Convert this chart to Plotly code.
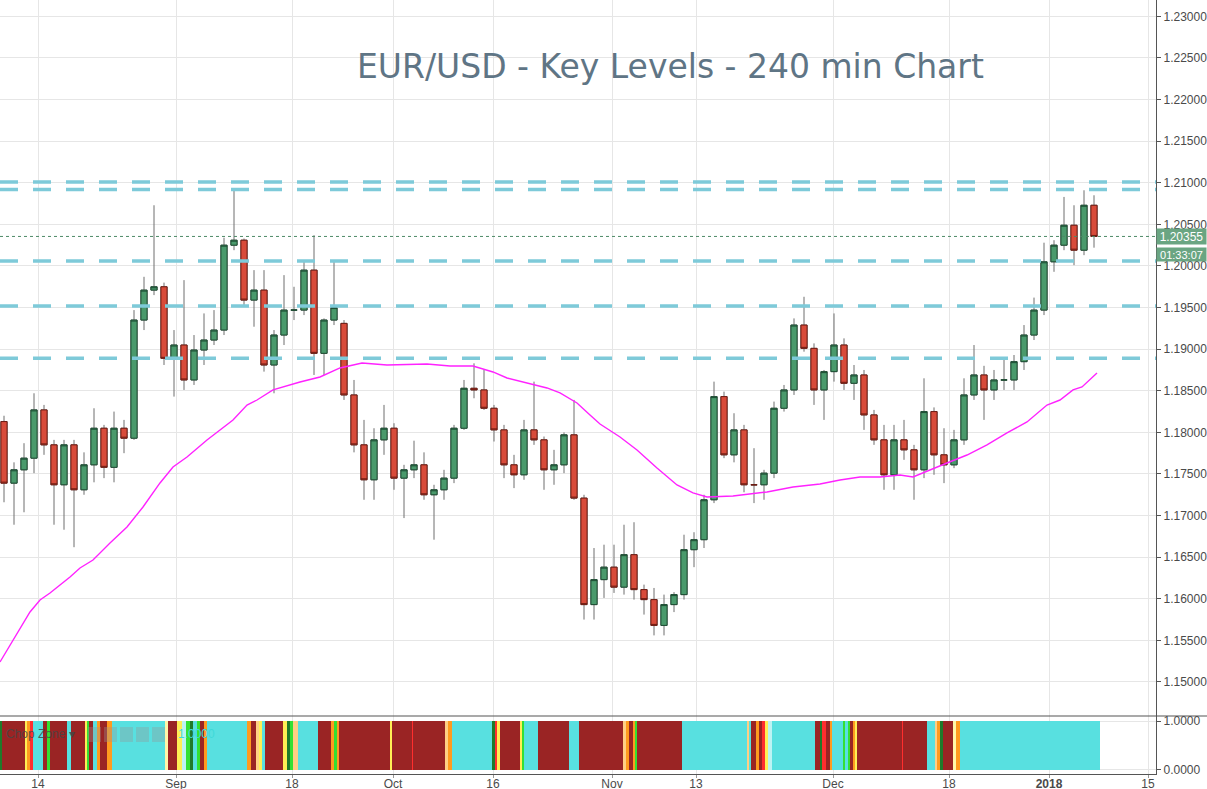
import plotly.graph_objects as go
import numpy as np

# ---------------- data ----------------
bar_index = list(range(-4, 106))   # one candle per trading-day column

open_ = [1.1813, 1.1739, 1.1755, 1.1769, 1.1827, 1.1785, 1.1737, 1.1785, 1.1731, 1.1761,
         1.1805, 1.1758, 1.1805, 1.1793, 1.1935, 1.1971, 1.1975, 1.1889, 1.1905, 1.1863,
         1.1899, 1.1911, 1.1923, 1.2025, 1.2031, 1.1959, 1.1971, 1.1881, 1.1917, 1.1947,
         1.1947, 1.1995, 1.1895, 1.1935, 1.1931, 1.1845, 1.1785, 1.1743, 1.1791, 1.1805,
         1.1745, 1.1755, 1.1761, 1.1725, 1.1731, 1.1745, 1.1805, 1.1853, 1.1851, 1.1829,
         1.1803, 1.1761, 1.1749, 1.1803, 1.1791, 1.1755, 1.1761, 1.1797, 1.1721, 1.1593,
         1.1623, 1.1638, 1.1614, 1.1653, 1.1611, 1.1599, 1.1568, 1.1593, 1.1605, 1.1659,
         1.1671, 1.1719, 1.1843, 1.1773, 1.1803, 1.1737, 1.1737, 1.1751, 1.1829, 1.1851,
         1.1929, 1.1901, 1.1851, 1.1873, 1.1905, 1.1859, 1.1869, 1.1821, 1.1791, 1.1749,
         1.1791, 1.1779, 1.1755, 1.1825, 1.1773, 1.1761, 1.1791, 1.1845, 1.1869, 1.1851,
         1.1863, 1.1863, 1.1885, 1.1917, 1.1947, 1.2005, 1.2025, 1.2049, 1.2019, 1.2073]
high = [1.1820, 1.1764, 1.1787, 1.1847, 1.1833, 1.1791, 1.1791, 1.1791, 1.1776, 1.1829,
        1.1809, 1.1825, 1.1815, 1.1947, 1.1987, 1.2073, 1.1980, 1.1923, 1.1983, 1.1917,
        1.1943, 1.1947, 1.2034, 1.2091, 1.2033, 1.1995, 1.1995, 1.1923, 1.1989, 1.1975,
        1.2005, 1.2037, 1.1937, 1.2005, 1.1935, 1.1863, 1.1815, 1.1805, 1.1833, 1.1811,
        1.1761, 1.1790, 1.1776, 1.1737, 1.1755, 1.1809, 1.1863, 1.1883, 1.1875, 1.1833,
        1.1809, 1.1773, 1.1815, 1.1861, 1.1795, 1.1779, 1.1800, 1.1839, 1.1725, 1.1661,
        1.1665, 1.1665, 1.1689, 1.1692, 1.1617, 1.1613, 1.1605, 1.1608, 1.1677, 1.1680,
        1.1725, 1.1861, 1.1849, 1.1823, 1.1809, 1.1781, 1.1755, 1.1837, 1.1857, 1.1937,
        1.1963, 1.1907, 1.1875, 1.1943, 1.1913, 1.1881, 1.1875, 1.1827, 1.1809, 1.1809,
        1.1815, 1.1785, 1.1865, 1.1830, 1.1805, 1.1803, 1.1865, 1.1905, 1.1880, 1.1875,
        1.1887, 1.1893, 1.1929, 1.1962, 1.2028, 1.2031, 1.2083, 1.2073, 1.2091, 1.2085]
low = [1.1716, 1.1689, 1.1704, 1.1751, 1.1773, 1.1689, 1.1683, 1.1662, 1.1725, 1.1740,
       1.1745, 1.1740, 1.1775, 1.1791, 1.1923, 1.1965, 1.1881, 1.1843, 1.1851, 1.1857,
       1.1881, 1.1905, 1.1917, 1.2019, 1.1953, 1.1927, 1.1873, 1.1847, 1.1905, 1.1935,
       1.1941, 1.1869, 1.1869, 1.1929, 1.1839, 1.1776, 1.1719, 1.1719, 1.1773, 1.1731,
       1.1697, 1.1745, 1.1719, 1.1671, 1.1719, 1.1739, 1.1803, 1.1841, 1.1827, 1.1789,
       1.1745, 1.1733, 1.1743, 1.1785, 1.1731, 1.1737, 1.1751, 1.1719, 1.1575, 1.1575,
       1.1601, 1.1607, 1.1605, 1.1599, 1.1581, 1.1556, 1.1556, 1.1584, 1.1599, 1.1638,
       1.1661, 1.1715, 1.1769, 1.1764, 1.1728, 1.1715, 1.1719, 1.1745, 1.1825, 1.1845,
       1.1897, 1.1833, 1.1815, 1.1861, 1.1851, 1.1839, 1.1803, 1.1785, 1.1731, 1.1731,
       1.1767, 1.1719, 1.1745, 1.1749, 1.1739, 1.1757, 1.1785, 1.1839, 1.1815, 1.1839,
       1.1851, 1.1851, 1.1875, 1.1911, 1.1941, 1.1993, 1.2019, 1.2001, 1.2013, 1.2022]
close = [1.1739, 1.1755, 1.1769, 1.1827, 1.1785, 1.1737, 1.1785, 1.1731, 1.1761, 1.1805,
         1.1758, 1.1805, 1.1793, 1.1935, 1.1971, 1.1975, 1.1889, 1.1905, 1.1863, 1.1899,
         1.1911, 1.1923, 1.2025, 1.2031, 1.1959, 1.1971, 1.1881, 1.1917, 1.1947, 1.1947,
         1.1995, 1.1895, 1.1935, 1.1950, 1.1845, 1.1785, 1.1743, 1.1791, 1.1805, 1.1745,
         1.1755, 1.1761, 1.1725, 1.1731, 1.1745, 1.1805, 1.1853, 1.1851, 1.1829, 1.1803,
         1.1761, 1.1749, 1.1803, 1.1791, 1.1755, 1.1761, 1.1797, 1.1721, 1.1593, 1.1623,
         1.1638, 1.1614, 1.1653, 1.1611, 1.1599, 1.1568, 1.1593, 1.1605, 1.1659, 1.1671,
         1.1719, 1.1843, 1.1773, 1.1803, 1.1737, 1.1737, 1.1751, 1.1829, 1.1851, 1.1929,
         1.1901, 1.1851, 1.1873, 1.1905, 1.1859, 1.1869, 1.1821, 1.1791, 1.1749, 1.1791,
         1.1779, 1.1755, 1.1825, 1.1773, 1.1761, 1.1791, 1.1845, 1.1869, 1.1851, 1.1863,
         1.1863, 1.1885, 1.1917, 1.1947, 1.2005, 1.2025, 1.2049, 1.2019, 1.2073, 1.20355]

# moving average (magenta) sampled along the line
ma_idx = [-4.4, -3.4, -2.4, -1.4, -0.4, 0.6, 1.6, 2.6, 3.6, 4.9, 6.6, 8.3, 9.9, 11.6, 12.9,
          14.3, 16.3, 17.6, 18.9, 20.3, 21.3, 22.9, 25.6, 27.6, 29.6, 31.8, 34.3, 38.3, 40.6,
          42.9, 44.9, 46.3, 48.3, 50.3, 51.6, 53.3, 54.6, 55.6, 57.6, 59.3, 61.3, 63.3, 64.9,
          66.3, 68.9, 72.3, 74.9, 77.6, 79.6, 81.6, 83.6, 85.6, 86.9, 88.3, 90.3, 92.3, 94.3,
          96.3, 98.3, 100.3, 101.6, 102.9, 103.8, 105.3]
ma_val = [1.15240, 1.15445, 1.15649, 1.15841, 1.15986, 1.16070, 1.16166, 1.16262, 1.16370,
          1.16466, 1.16671, 1.16863, 1.17103, 1.17392, 1.17584, 1.17704, 1.17909, 1.18029,
          1.18149, 1.18329, 1.18389, 1.18510, 1.18606, 1.18666, 1.18774, 1.18834, 1.18810,
          1.18822, 1.18798, 1.18798, 1.18726, 1.18654, 1.18594, 1.18534, 1.18474, 1.18353,
          1.18209, 1.18101, 1.17945, 1.17789, 1.17572, 1.17368, 1.17272, 1.17224, 1.17236,
          1.17284, 1.17344, 1.17380, 1.17428, 1.17464, 1.17464, 1.17488, 1.17464, 1.17536,
          1.17632, 1.17728, 1.17849, 1.17993, 1.18125, 1.18329, 1.18389, 1.18510, 1.18546,
          1.18714]

key_levels = [1.2101, 1.2092, 1.2006, 1.1952, 1.1889]
last_price = 1.20355
countdown = "01:33:07"

# Chop Zone indicator: contiguous runs (edges in candle-index units) and colour codes
chop_edges = [-4.4, -4.2, -1.9, -1.7, -1.4, -1.1, -0.1, 0.3, 0.6, 2.3,
              2.7, 4.1, 4.3, 4.5, 4.9, 5.3, 5.6, 6.3, 6.8, 12.1,
              12.4, 13.3, 13.8, 14.2, 14.6, 14.9, 15.3, 15.6, 16.0, 16.3,
              20.3, 20.7, 21.2, 21.5, 21.8, 22.1, 23.9, 24.3, 24.6, 24.9,
              25.4, 27.4, 28.7, 29.0, 29.3, 29.5, 34.6, 34.8, 36.8, 36.9,
              40.1, 40.4, 40.8, 44.8, 45.1, 45.3, 45.6, 47.6, 47.8, 48.0,
              49.4, 52.5, 53.5, 57.9, 58.2, 58.5, 58.9, 59.1, 59.3, 63.8,
              70.3, 70.5, 70.7, 71.2, 71.5, 71.8, 72.1, 72.4, 72.8, 77.1,
              77.6, 77.8, 78.2, 78.6, 78.8, 79.9, 80.1, 80.4, 80.6, 80.9,
              81.1, 81.3, 85.8, 85.9, 88.3, 89.1, 89.3, 89.6, 89.9, 90.9,
              91.2, 91.6, 105.6]
chop_codes = ["dg", "dr", "ye", "or", "rd", "cy", "dr", "gr", "dr", "cy",
              "dr", "ye", "gr", "dr", "cy", "or", "dr", "or", "cy", "ly",
              "dr", "ye", "pc", "gr", "dg", "cy", "gr", "dr", "or", "cy",
              "or", "dr", "lo", "ye", "cy", "dr", "ye", "dg", "gr", "lo",
              "cy", "dr", "or", "gr", "or", "dr", "ye", "dr", "rd", "dr",
              "lo", "or", "cy", "dg", "rd", "ye", "dr", "ye", "gr", "cy",
              "dr", "cy", "dr", "lo", "or", "dr", "or", "gr", "dr", "cy",
              "lo", "cy", "dr", "or", "dr", "rd", "ye", "pc", "cy", "dr",
              "dg", "rd", "dr", "or", "cy", "gr", "cy", "gr", "dr", "or",
              "ye", "dr", "rd", "dr", "cy", "lo", "or", "dg", "dr", "ly",
              "or", "cy"]

x_tick_pos = [-0.6, 13.2, 24.8, 34.9, 44.9, 56.8, 65.2, 78.9, 90.5, 100.5, 110.4]
x_tick_text = ["14", "Sep", "18", "Oct", "16", "Nov", "13", "Dec", "18", "<b>2018</b>", "15"]
price_ticks = [1.150, 1.155, 1.160, 1.165, 1.170, 1.175, 1.180, 1.185, 1.190,
               1.195, 1.200, 1.205, 1.210, 1.215, 1.220, 1.225, 1.230]

# ---------------- styling ----------------
CHOP_COLORS = {"dr": "#9a2424", "cy": "#58e0e0", "ye": "#ffee55", "or": "#ff9a1f",
               "lo": "#ffcf85", "rd": "#ff2e2e", "gr": "#33e033", "dg": "#1f7a2a",
               "ly": "#fff7a8", "pc": "#bdf3f3"}
GRID = "#e6e6e6"
AXIS = "#555555"
TICKFONT = dict(family="Liberation Sans, Arial, sans-serif", size=12, color="#4a4a4a")

W, H = 1207, 789
ML, MR, MT, MB = 0, 51, 0, 15
plot_h = H - MT - MB
plot_w = W - ML - MR
split = 58 / plot_h

o = np.array(open_)
c = np.array(close)

fig = go.Figure()

# wicks (grey)
fig.add_trace(go.Candlestick(
    x=bar_index, open=open_, high=high, low=low, close=close,
    increasing=dict(line=dict(color="#6f6f6f", width=1), fillcolor="#6f6f6f"),
    decreasing=dict(line=dict(color="#6f6f6f", width=1), fillcolor="#6f6f6f"),
    whiskerwidth=0, xaxis="x2", yaxis="y", hoverinfo="skip", showlegend=False))
# bodies
fig.add_trace(go.Candlestick(
    x=bar_index, open=open_, high=np.maximum(o, c), low=np.minimum(o, c), close=close,
    increasing=dict(line=dict(color="#1d4d33", width=1), fillcolor="#4a9a6c"),
    decreasing=dict(line=dict(color="#6e1b12", width=1), fillcolor="#d84b3a"),
    whiskerwidth=0, xaxis="x2", yaxis="y", showlegend=False))

# moving average
fig.add_trace(go.Scatter(x=ma_idx, y=ma_val, mode="lines",
                         line=dict(color="#ff22ff", width=1.4),
                         xaxis="x2", yaxis="y", hoverinfo="skip", showlegend=False))

# chop zone bars
e = np.array(chop_edges)
fig.add_trace(go.Bar(x=(e[:-1] + e[1:]) / 2, y=[1] * len(chop_codes), base=0,
                     width=np.diff(e),
                     marker=dict(color=[CHOP_COLORS[k] for k in chop_codes], line=dict(width=0)),
                     xaxis="x", yaxis="y2", hoverinfo="skip", showlegend=False))

shapes = []
for lv in key_levels:
    shapes.append(dict(type="line", xref="paper", x0=0, x1=1, yref="y", y0=lv, y1=lv,
                       line=dict(color="#7ecad9", width=3.5, dash="18px,15px")))
shapes.append(dict(type="line", xref="paper", x0=0, x1=1, yref="y", y0=last_price, y1=last_price,
                   line=dict(color="#4d8a66", width=1, dash="dot")))
# pane separator
shapes.append(dict(type="line", xref="paper", x0=0, x1=W / plot_w, yref="paper",
                   y0=split, y1=split, line=dict(color=AXIS, width=1.2)))
# faint indicator-toolbar icons
for px in [88, 104, 120, 136, 152]:
    shapes.append(dict(type="rect", xref="paper", yref="paper",
                       x0=px / plot_w, x1=(px + 13) / plot_w,
                       y0=(plot_h - 742) / plot_h, y1=(plot_h - 727) / plot_h,
                       fillcolor="rgba(150,150,150,0.35)", line=dict(width=0)))

annotations = [
    dict(text="EUR/USD - Key Levels - 240 min Chart", xref="paper", yref="paper",
         x=670.5 / plot_w, y=(plot_h - 67) / plot_h, xanchor="center", yanchor="middle",
         showarrow=False, font=dict(family="DejaVu Sans, sans-serif", size=33, color="#5f7585")),
    dict(text="1.20355", xref="paper", yref="y", x=1, y=last_price, xanchor="left",
         yanchor="middle", showarrow=False, bgcolor="#6aa582", width=47, height=13,
         borderpad=1, font=dict(family="Liberation Sans, Arial", size=12, color="white")),
    dict(text=countdown, xref="paper", yref="y", x=1, y=last_price, yshift=-18,
         xanchor="left", yanchor="middle", showarrow=False, bgcolor="#6aa582",
         width=47, height=11, borderpad=1,
         font=dict(family="Liberation Sans, Arial", size=11, color="white")),
    dict(text="Chop Zone \u25be", xref="paper", yref="paper", x=4 / plot_w,
         y=(plot_h - 734) / plot_h, xanchor="left", yanchor="middle", showarrow=False,
         font=dict(family="Liberation Sans, Arial", size=12, color="rgba(70,70,70,0.85)")),
    dict(text="1.0000", xref="paper", yref="paper", x=176 / plot_w,
         y=(plot_h - 734) / plot_h, xanchor="left", yanchor="middle", showarrow=False,
         font=dict(family="Liberation Sans, Arial", size=12, color="#3fd9d9")),
]

fig.update_layout(
    width=W, height=H, margin=dict(l=ML, r=MR, t=MT, b=MB),
    paper_bgcolor="white", plot_bgcolor="white", template="none",
    showlegend=False, boxgap=0.12, bargap=0,
    shapes=shapes, annotations=annotations,
    xaxis=dict(domain=[0, 1], anchor="y2", range=[-4.4, 111.2],
               tickvals=x_tick_pos, ticktext=x_tick_text, tickfont=TICKFONT,
               showgrid=True, gridcolor=GRID, gridwidth=1, zeroline=False,
               showline=True, linecolor=AXIS, linewidth=1.2,
               ticks="outside", ticklen=3, tickcolor="#999", automargin=False,
               ticklabelstandoff=-5,
               rangeslider=dict(visible=False)),
    xaxis2=dict(domain=[0, 1], anchor="y", matches="x", range=[-4.4, 111.2],
                tickvals=x_tick_pos, showticklabels=False,
                showgrid=True, gridcolor=GRID, gridwidth=1, zeroline=False,
                showline=False, ticks="", automargin=False,
                rangeslider=dict(visible=False)),
    yaxis=dict(domain=[split, 1], anchor="x2", side="right",
               range=[1.14591, 1.23197], tickvals=price_ticks, tickformat=".5f",
               tickfont=TICKFONT, showgrid=True, gridcolor=GRID, gridwidth=1,
               zeroline=False, showline=True, linecolor=AXIS, linewidth=1.2,
               ticks="outside", ticklen=4, tickcolor=AXIS, automargin=False),
    yaxis2=dict(domain=[0, split], anchor="x", side="right",
                range=[-0.082, 1.102], tickvals=[0, 1], ticktext=["0.0000", "1.0000"],
                tickfont=TICKFONT, showgrid=True, gridcolor=GRID, zeroline=False,
                showline=True, linecolor=AXIS, linewidth=1.2,
                ticks="outside", ticklen=4, tickcolor=AXIS, automargin=False),
)

fig.write_html("out.html")
